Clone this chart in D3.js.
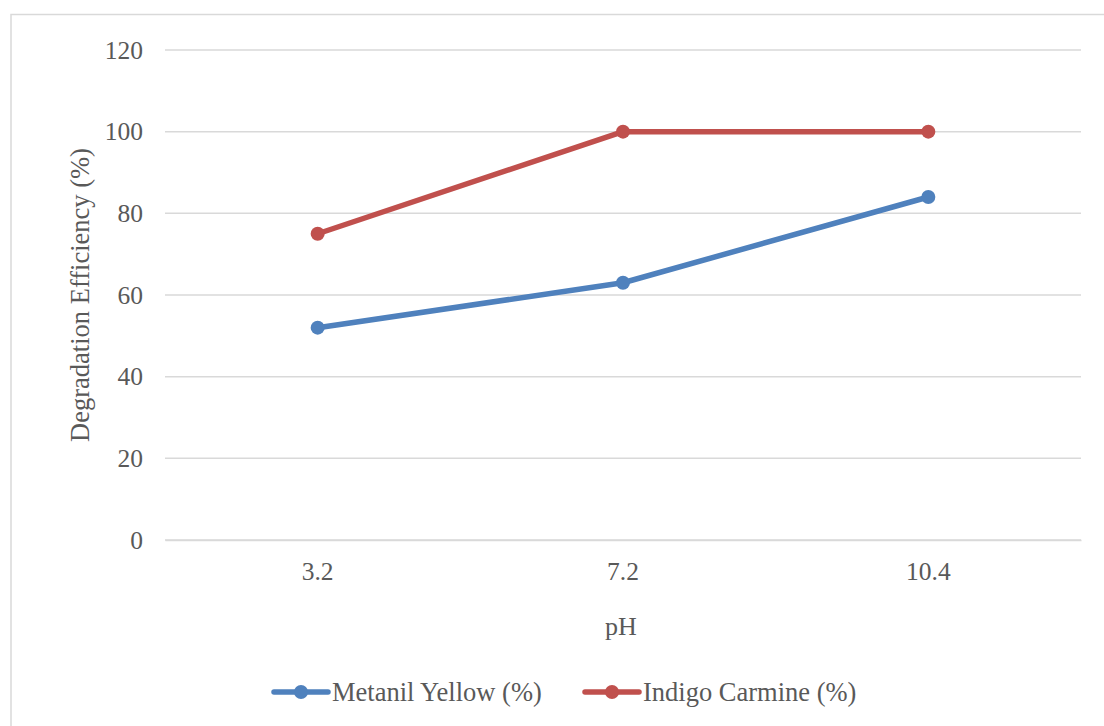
<!DOCTYPE html>
<html>
<head>
<meta charset="utf-8">
<script src="https://cdn.jsdelivr.net/npm/d3@7"></script>
</head>
<body style="margin:0">
<svg id="chart" width="1104" height="726" font-family="Liberation Serif"></svg>
<script>
// pH values tested and degradation efficiency (%) per dye
const categories = ["3.2", "7.2", "10.4"];
const metanilYellow = [52, 63, 84];
const indigoCarmine = [75, 100, 100];
const yTicks = [0, 20, 40, 60, 80, 100, 120];
const seriesNames = ["Metanil Yellow (%)", "Indigo Carmine (%)"];
const seriesColors = ["#4F81BD", "#C0504D"];

const svg = d3.select("#chart");
const W = 1104, H = 726;
const plot = { left: 165, right: 1081, top: 50, bottom: 540 };
const TEXT_COLOR = "#595959";
const GRID = "#D9D9D9";

function styleText(sel, size) {
  sel.attr("font-family", "Liberation Serif")
    .style("font-family", "'Liberation Serif'")
    .style("font-size", size + "px")
    .attr("fill", TEXT_COLOR);
}

// chart frame
svg.append("rect")
  .attr("x", 11).attr("y", 14.5)
  .attr("width", W + 10).attr("height", H + 10)
  .attr("fill", "#fff").attr("stroke", GRID).attr("stroke-width", 1.5);

const x = d3.scaleBand().domain(categories).range([plot.left, plot.right]);
const y = d3.scaleLinear().domain([0, 120]).range([plot.bottom, plot.top]);

// horizontal gridlines
svg.append("g").selectAll("line").data(yTicks).join("line")
  .attr("x1", plot.left).attr("x2", plot.right)
  .attr("y1", d => y(d)).attr("y2", d => y(d))
  .attr("stroke", GRID).attr("stroke-width", 1.5);

// y axis labels
const yAxis = svg.append("g")
  .attr("transform", `translate(${plot.left},0)`)
  .call(d3.axisLeft(y).tickValues(yTicks).tickSize(0).tickPadding(22));
yAxis.attr("font-family", "Liberation Serif").attr("font-size", null);
yAxis.select(".domain").remove();
yAxis.selectAll("text").call(styleText, 25.5);

// x axis
const xAxis = svg.append("g")
  .attr("transform", `translate(0,${plot.bottom})`)
  .call(d3.axisBottom(x).tickSize(0));
xAxis.attr("font-family", "Liberation Serif").attr("font-size", null);
xAxis.select(".domain").attr("stroke", GRID).attr("stroke-width", 1.5);
xAxis.selectAll("text").attr("y", 40).attr("dy", 0).call(styleText, 25.5);

// axis titles
svg.append("text")
  .attr("x", 621).attr("y", 635)
  .attr("text-anchor", "middle").text("pH").call(styleText, 26);
svg.append("text")
  .attr("transform", `translate(89,${(plot.top + plot.bottom) / 2}) rotate(-90)`)
  .attr("text-anchor", "middle")
  .text("Degradation Efficiency (%)").call(styleText, 26.5);

// series lines and markers
const series = [metanilYellow, indigoCarmine];
const cx = (d, i) => x(categories[i]) + x.bandwidth() / 2;
const line = d3.line().x(cx).y(d => y(d));

series.forEach((vals, s) => {
  const g = svg.append("g");
  g.append("path").datum(vals)
    .attr("d", line).attr("fill", "none")
    .attr("stroke", seriesColors[s]).attr("stroke-width", 5.5)
    .attr("stroke-linejoin", "round").attr("stroke-linecap", "round");
  g.selectAll("circle").data(vals).join("circle")
    .attr("cx", cx).attr("cy", d => y(d)).attr("r", 7)
    .attr("fill", seriesColors[s]);
});

// legend
const legendX = [272, 583];
legendX.forEach((lx, s) => {
  const g = svg.append("g").attr("transform", `translate(${lx},692)`);
  g.append("line").attr("x1", 2).attr("x2", 56).attr("y1", 0).attr("y2", 0)
    .attr("stroke", seriesColors[s]).attr("stroke-width", 5.5).attr("stroke-linecap", "round");
  g.append("circle").attr("cx", 29).attr("cy", 0).attr("r", 7).attr("fill", seriesColors[s]);
  g.append("text").attr("x", 60).attr("y", 9).text(seriesNames[s]).call(styleText, 26.5);
});
</script>
</body>
</html>
